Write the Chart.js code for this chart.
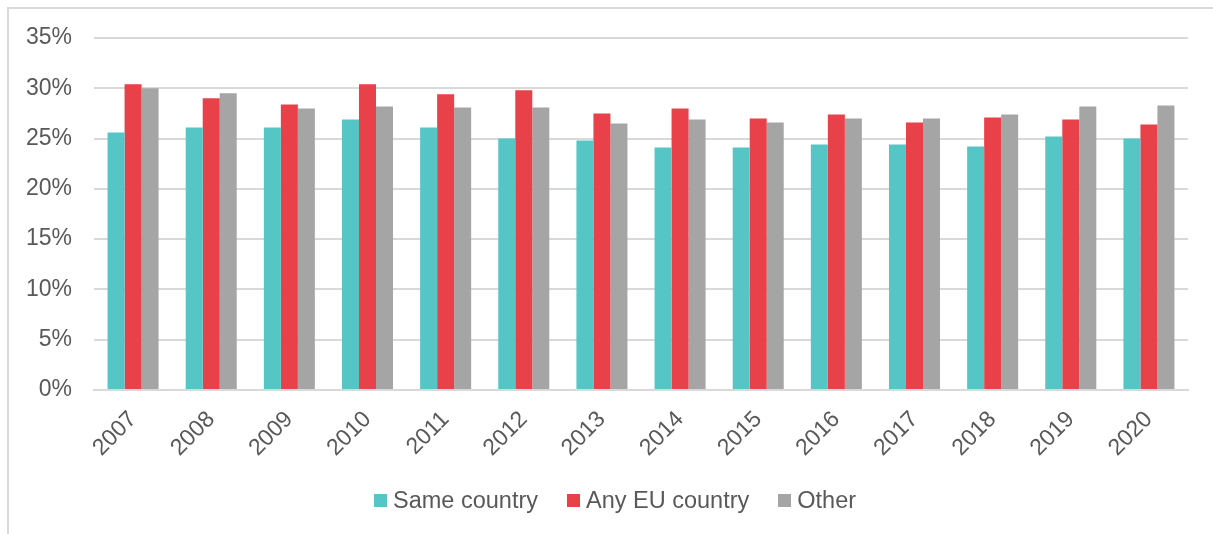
<!DOCTYPE html>
<html>
<head>
<meta charset="utf-8">
<script src="https://cdn.jsdelivr.net/npm/chart.js@4/dist/chart.umd.min.js"></script>
<style>
  html, body { margin: 0; padding: 0; background: #fff; }
  #wrap { position: relative; width: 1213px; height: 534px; overflow: hidden; }
  #frame { position: absolute; left: 7px; top: 7px; width: 1220px; height: 540px;
           border-top: 2px solid #D9D9D9; border-left: 2px solid #D9D9D9; }
  canvas { position: absolute; left: 0; top: 0; }
  #legend { position: absolute; left: 374px; top: 487px; height: 26px; display: flex;
            align-items: center; font-family: 'Liberation Sans', Arial, sans-serif;
            font-size: 23.5px; color: #595959; white-space: nowrap; }
  #legend .item { display: flex; align-items: center; margin-right: 29px; }
  #legend .box { width: 13px; height: 13px; margin-right: 6px; }
</style>
</head>
<body>
<div id="wrap">
  <div id="frame"></div>
  <canvas id="c" width="1213" height="534"></canvas>
  <div id="legend"></div>
</div>
<script>
// Share of graduates (%) by country of destination, 2007–2020
const years = ['2007','2008','2009','2010','2011','2012','2013','2014','2015','2016','2017','2018','2019','2020'];
const sameCountry = [25.6, 26.1, 26.1, 26.9, 26.1, 25.0, 24.8, 24.1, 24.1, 24.4, 24.4, 24.2, 25.2, 25.0];
const anyEU       = [30.4, 29.0, 28.4, 30.4, 29.4, 29.8, 27.5, 28.0, 27.0, 27.4, 26.6, 27.1, 26.9, 26.4];
const other       = [30.0, 29.5, 28.0, 28.2, 28.1, 28.1, 26.5, 26.9, 26.6, 27.0, 27.0, 27.4, 28.2, 28.3];
const seriesNames = ['Same country', 'Any EU country', 'Other'];
const seriesColors = ['#56C5C5', '#E8414A', '#A5A5A5'];
const yTicks = [0, 5, 10, 15, 20, 25, 30, 35];

const FONT = "'Liberation Sans', Arial, sans-serif";
const TEXT = '#595959';
const GRID = '#D9D9D9';

const chart = new Chart(document.getElementById('c'), {
  type: 'bar',
  data: {
    labels: years,
    datasets: [sameCountry, anyEU, other].map((d, i) => ({
      label: seriesNames[i],
      data: d,
      backgroundColor: seriesColors[i],
      borderWidth: 0,
      categoryPercentage: 0.653,
      barPercentage: 1.0
    }))
  },
  options: {
    responsive: false,
    animation: false,
    devicePixelRatio: 1,
    layout: { padding: { left: 0, right: 25, top: 38, bottom: 0 } },
    plugins: {
      tooltip: { enabled: false },
      legend: { display: false }
    },
    scales: {
      x: {
        grid: { display: false, drawTicks: false },
        border: { display: true, color: GRID, width: 2 },
        ticks: {
          color: TEXT,
          font: { family: FONT, size: 23 },
          minRotation: 45,
          maxRotation: 45,
          padding: 16
        },
        afterFit: (s) => { s.height = 144; }
      },
      y: {
        min: 0,
        max: 35,
        afterBuildTicks: (s) => { s.ticks = yTicks.map(v => ({ value: v })); },
        grid: { color: GRID, lineWidth: 2, drawTicks: false },
        border: { display: false },
        ticks: {
          color: TEXT,
          font: { family: FONT, size: 23 },
          padding: 22,
          callback: (v) => v + '%'
        },
        afterFit: (s) => { s.width = 94; }
      }
    }
  }
});

// Legend built from the chart's own datasets
const legendEl = document.getElementById('legend');
chart.data.datasets.forEach((ds) => {
  const item = document.createElement('div');
  item.className = 'item';
  const box = document.createElement('span');
  box.className = 'box';
  box.style.background = ds.backgroundColor;
  const label = document.createElement('span');
  label.textContent = ds.label;
  item.appendChild(box);
  item.appendChild(label);
  legendEl.appendChild(item);
});
</script>
</body>
</html>
